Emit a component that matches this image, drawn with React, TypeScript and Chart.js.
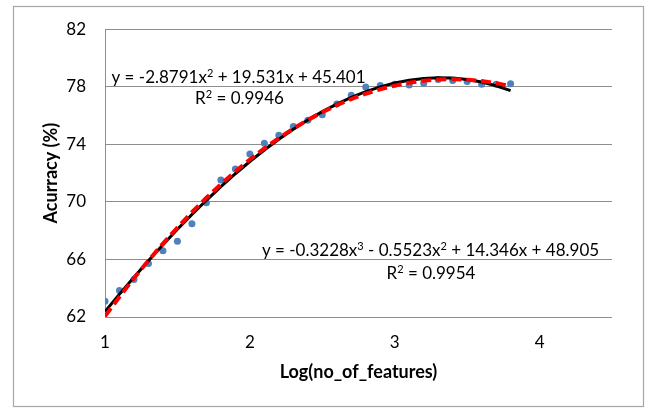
import React, { useEffect, useRef } from "react";
import { Chart, registerables } from "chart.js";

Chart.register(...registerables);

// ---- data ----
const logFeatures = [1.0, 1.1, 1.2, 1.3, 1.4, 1.5, 1.6, 1.7, 1.8, 1.9, 2.0, 2.1, 2.2, 2.3, 2.4, 2.5, 2.6, 2.7, 2.8, 2.9, 3.0, 3.1, 3.2, 3.3, 3.4, 3.5, 3.6, 3.7, 3.8];
const accuracy = [63.1, 63.85, 64.6, 65.72, 66.6, 67.26, 68.48, 69.94, 71.52, 72.28, 73.32, 74.08, 74.63, 75.24, 75.68, 76.05, 76.8, 77.41, 77.99, 78.08, 78.18, 78.13, 78.25, 78.5, 78.43, 78.36, 78.18, 78.18, 78.21];
// trendline values (polynomial order 2, red dashed)
const quadTrend = [62.053, 63.401, 64.692, 65.926, 67.101, 68.22, 69.28, 70.283, 71.229, 72.116, 72.947, 73.719, 74.434, 75.092, 75.692, 76.234, 76.719, 77.146, 77.516, 77.828, 78.082, 78.279, 78.418, 78.5, 78.524, 78.491, 78.4, 78.251, 78.045];
// trendline values (polynomial order 3, black)
const cubicTrend = [62.376, 63.588, 64.767, 65.912, 67.021, 68.092, 69.122, 70.111, 71.056, 71.955, 72.805, 73.606, 74.356, 75.052, 75.692, 76.274, 76.797, 77.259, 77.658, 77.991, 78.257, 78.453, 78.579, 78.632, 78.609, 78.51, 78.332, 78.073, 77.732];
const xTicks = [1, 2, 3, 4];
const yTicks = [62, 66, 70, 74, 78, 82];
const eqQuad = [
  { t: "y = -2.8791x" }, { t: "2", sup: true }, { t: " + 19.531x + 45.401" },
];
const r2Quad = [{ t: "R" }, { t: "2", sup: true }, { t: " = 0.9946" }];
const eqCubic = [
  { t: "y = -0.3228x" }, { t: "3", sup: true }, { t: " - 0.5523x" }, { t: "2", sup: true }, { t: " + 14.346x + 48.905" },
];
const r2Cubic = [{ t: "R" }, { t: "2", sup: true }, { t: " = 0.9954" }];

const FONT = "Lato, 'Open Sans', sans-serif";

type Seg = { t: string; sup?: boolean };

function drawRich(ctx: CanvasRenderingContext2D, segs: Seg[], cx: number, baseline: number) {
  const main = `17px ${FONT}`;
  const sup = `11px ${FONT}`;
  let total = 0;
  const widths = segs.map((s) => {
    ctx.font = s.sup ? sup : main;
    const w = ctx.measureText(s.t).width;
    total += w;
    return w;
  });
  let x = cx - total / 2;
  ctx.textAlign = "left";
  ctx.textBaseline = "alphabetic";
  ctx.fillStyle = "#000";
  segs.forEach((s, i) => {
    ctx.font = s.sup ? sup : main;
    ctx.fillText(s.t, x, s.sup ? baseline - 6 : baseline);
    x += widths[i];
  });
}

const decorPlugin = {
  id: "decor",
  beforeDraw(chart: any) {
    const ctx = chart.ctx as CanvasRenderingContext2D;
    ctx.save();
    ctx.fillStyle = "#fff";
    ctx.fillRect(0, 0, chart.width, chart.height);
    ctx.strokeStyle = "#a6a6a6";
    ctx.lineWidth = 1.2;
    ctx.strokeRect(13.5, 6.5, 630, 400);
    ctx.restore();
  },
  afterDraw(chart: any) {
    const ctx = chart.ctx as CanvasRenderingContext2D;
    ctx.save();
    drawRich(ctx, eqQuad, 238.5, 83);
    drawRich(ctx, r2Quad, 239.5, 104);
    drawRich(ctx, eqCubic, 430.5, 256);
    drawRich(ctx, r2Cubic, 431, 279);
    ctx.restore();
  },
};

export default function App() {
  const ref = useRef<HTMLCanvasElement | null>(null);

  useEffect(() => {
    document.body.style.margin = "0";
    const canvas = ref.current;
    if (!canvas) return;
    const chart = new Chart(canvas, {
      type: "scatter",
      data: {
        datasets: [
          {
            label: "Poly. (order 2)",
            type: "line",
            data: logFeatures.map((x, i) => ({ x, y: quadTrend[i] })),
            borderColor: "#ff0000",
            borderWidth: 4,
            borderDash: [10, 5],
            pointRadius: 0,
            fill: false,
            tension: 0,
          },
          {
            label: "Poly. (order 3)",
            type: "line",
            data: logFeatures.map((x, i) => ({ x, y: cubicTrend[i] })),
            borderColor: "#000000",
            borderWidth: 3,
            pointRadius: 0,
            fill: false,
            tension: 0,
          },
          {
            label: "Accuracy",
            data: logFeatures.map((x, i) => ({ x, y: accuracy[i] })),
            backgroundColor: "#4f81bd",
            borderColor: "#4f81bd",
            pointRadius: 3.5,
            pointBorderWidth: 0,
          },
        ],
      },
      options: {
        responsive: false,
        animation: false,
        layout: { padding: { left: 36, top: 28, right: 36, bottom: 26 } },
        plugins: { legend: { display: false }, tooltip: { enabled: false } },
        scales: {
          x: {
            type: "linear",
            min: 1,
            max: 4.5,
            afterFit: (s: any) => { s.height = 70; },
            afterBuildTicks: (s: any) => { s.ticks = xTicks.map((v) => ({ value: v })); },
            ticks: { includeBounds: false, padding: 15, color: "#000", font: { family: FONT, size: 17 } },
            grid: { display: false, drawTicks: false },
            border: { display: false },
            title: { display: true, text: "Log(no_of_features)", color: "#000", font: { family: FONT, size: 18, weight: "bold" } },
          },
          y: {
            min: 62,
            max: 82,
            afterFit: (s: any) => { s.width = 69; },
            afterBuildTicks: (s: any) => { s.ticks = yTicks.map((v) => ({ value: v })); },
            ticks: { padding: 19, color: "#000", font: { family: FONT, size: 17 } },
            grid: { color: "#8e8e8e", lineWidth: 1, drawTicks: false },
            border: { display: true, color: "#8e8e8e", width: 1 },
            title: { display: true, text: "Acurracy (%)", color: "#000", font: { family: FONT, size: 18, weight: "bold" } },
          },
        },
      },
      plugins: [decorPlugin],
    } as any);
    return () => chart.destroy();
  }, []);

  return (
    <div style={{ position: "absolute", left: 0, top: 0, width: 648, height: 413 }}>
      <canvas ref={ref} width={648} height={413} style={{ width: 648, height: 413, display: "block" }} />
    </div>
  );
}
